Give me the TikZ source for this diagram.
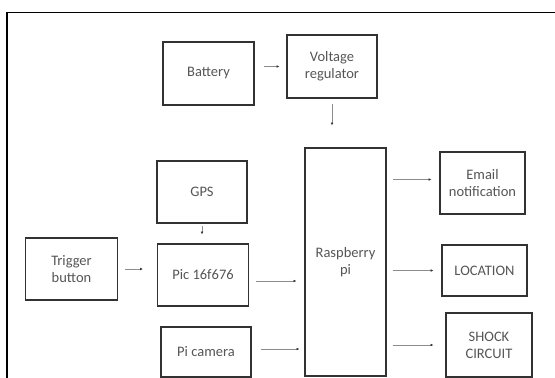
\documentclass[tikz,border=0pt]{standalone}
\usepackage{fontspec}
\setmainfont{Carlito}
\usetikzlibrary{arrows.meta}
\definecolor{boxline}{RGB}{50,50,50}
\definecolor{textgray}{RGB}{85,85,85}
\definecolor{linegray}{RGB}{140,140,140}

\begin{document}
\begin{tikzpicture}[x=1pt,y=1pt,yscale=-1,xscale=1,
  blk/.style={draw=boxline, line width=1.4pt, inner sep=0pt, align=center,
    text=textgray, font=\fontsize{14.5}{17}\selectfont},
  conn/.style={draw=linegray, line width=0.6pt,
    -{Latex[length=2.6pt,width=2.6pt,color=black!80]},
    shorten <=7pt, shorten >=7pt}]
\useasboundingbox (0,0) rectangle (555,378);

% outer frame (cut by the page)
\draw [line width=1.8pt] (7,378) -- (7,12.5) -- (555,12.5);

% Blocks
\node [blk, minimum width=91pt, minimum height=63pt] (bat) at (208.5,73.5) {Battery};
\node [blk, minimum width=90pt, minimum height=63pt] (vreg) at (332,66.5) {Voltage\\regulator};
\node [blk, minimum width=81pt, minimum height=228pt] (rpi) at (345.5,262) {Raspberry\\pi};
\node [blk, minimum width=90pt, minimum height=62pt] (gps) at (202,192) {GPS};
\node [blk, minimum width=91pt, minimum height=62pt] (pic) at (203,275) {Pic 16f676};
\node [blk, minimum width=90pt, minimum height=50pt] (cam) at (206,352) {Pi camera};
\node [blk, minimum width=92pt, minimum height=62pt] (trig) at (71.5,269) {Trigger\\button};
\node [blk, minimum width=85pt, minimum height=62pt] (mail) at (482.5,183) {Email\\notification};
\node [blk, minimum width=85pt, minimum height=51pt] (loc) at (484.5,270.5) {LOCATION};
\node [blk, minimum width=86pt, minimum height=64pt] (shock) at (489,345) {SHOCK\\CIRCUIT};

% Connectors
\draw [conn, shorten <=9pt] (bat.east |- vreg.west) -- (vreg.west);
\draw [conn, shorten <=5pt, shorten >=22pt] (vreg.south) -- (vreg.south |- rpi.north);
\draw [conn, shorten <=2pt, shorten >=9pt] (gps.south) -- (gps.south |- pic.north);
\draw [conn, shorten >=14pt] (trig.east) -- (trig.east -| pic.west);
\draw [conn, shorten >=8pt] ([yshift=6pt]pic.east) -- ([yshift=6pt]pic.east -| rpi.west);
\draw [conn, shorten <=9pt, shorten >=5pt] ([yshift=-3pt]cam.east) -- ([yshift=-3pt]cam.east -| rpi.west);
\draw [conn, shorten <=6pt, shorten >=8pt] (rpi.east |- mail.west) ++(0,-3.5) coordinate (m0) (m0) -- (m0 -| mail.west);
\draw [conn, shorten <=6pt, shorten >=8pt] (rpi.east |- loc.west) -- (loc.west);
\draw [conn, shorten <=6pt, shorten >=12pt] (rpi.east |- shock.west) -- (shock.west);

\end{tikzpicture}
\end{document}
